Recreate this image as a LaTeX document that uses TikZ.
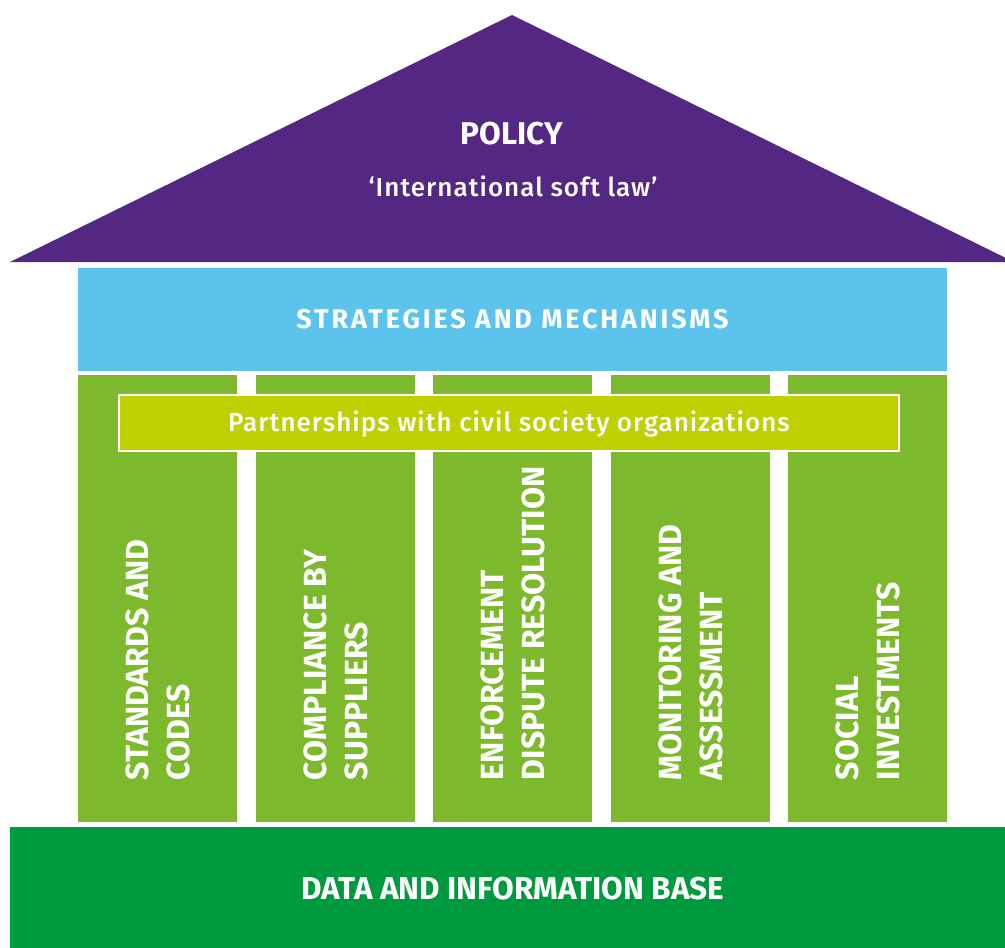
\documentclass[tikz,border=0pt]{standalone}
\usepackage{fontspec}
\newfontfamily\dinfont{Fira Sans}
\newfontfamily\dinwide[LetterSpace=10.5]{Fira Sans}
\newfontfamily\dinmedium[LetterSpace=4]{Fira Sans Medium}
\definecolor{roofpurple}{HTML}{532782}
\definecolor{bandblue}{HTML}{5BC3EC}
\definecolor{pillargreen}{HTML}{7CB92D}
\definecolor{partnerlime}{HTML}{BED000}
\definecolor{basegreen}{HTML}{009A3E}
\tikzset{
  block/.style={inner sep=0pt, outer sep=0pt, text=white},
  headtext/.style={block, font=\dinfont\bfseries\fontsize{31.5}{38}\selectfont},
  pillarlabel/.style={block, rotate=90, anchor=west, align=left,
    font=\dinfont\bfseries\fontsize{32}{41}\selectfont}
}
\begin{document}
\begin{tikzpicture}[x=1pt,y=-1pt]
  \useasboundingbox (0,0) rectangle (1005,948);

  % Roof
  \fill[roofpurple] (10,262) -- (512,15) -- (1014,262) -- cycle;
  \node[headtext] (policy) at (512,134) {POLICY};
  \node[block, font=\dinmedium\fontsize{26}{32}\selectfont] (softlaw) at (513,186) {‘International soft law’};

  % Strategies band
  \node[block, fill=bandblue, minimum width=869, minimum height=103] (band) at (512.5,319.5) {};
  \node[block, font=\dinwide\bfseries\fontsize{27}{33}\selectfont] (strategies) at (band) {STRATEGIES AND MECHANISMS};

  % Pillars
  \foreach \i/\x in {1/157.5, 2/335.5, 3/512.5, 4/690.5, 5/867.5}
    \node[block, fill=pillargreen, minimum width=159, minimum height=447] (pillar\i) at (\x,598.5) {};

  % Partnerships bar across the pillars
  \node[block, fill=partnerlime, draw=white, line width=2pt, minimum width=780, minimum height=56,
    font=\dinmedium\fontsize{26}{32}\selectfont] (partners) at (509,423) {};
  \node[block, font=\dinmedium\fontsize{26}{32}\selectfont] (partnertext) at (509,424) {Partnerships with civil society organizations};

  % Pillar labels
  \node[pillarlabel] (standards) at (pillar1.center |- 0,780) {STANDARDS AND\\CODES};
  \node[pillarlabel] (compliance) at (pillar2.center |- 0,780) {COMPLIANCE BY\\SUPPLIERS};
  \node[pillarlabel] (enforcement) at (pillar3.center |- 0,780) {ENFORCEMENT\\DISPUTE RESOLUTION};
  \node[pillarlabel] (monitoring) at (pillar4.center |- 0,780) {MONITORING AND\\ASSESSMENT};
  \node[pillarlabel] (social) at (pillar5.center |- 0,780) {SOCIAL\\INVESTMENTS};

  % Base
  \node[block, fill=basegreen, minimum width=995, minimum height=121] (base) at (507.5,887.5) {};
  \node[headtext] (database) at (513,889) {DATA AND INFORMATION BASE};
\end{tikzpicture}
\end{document}
